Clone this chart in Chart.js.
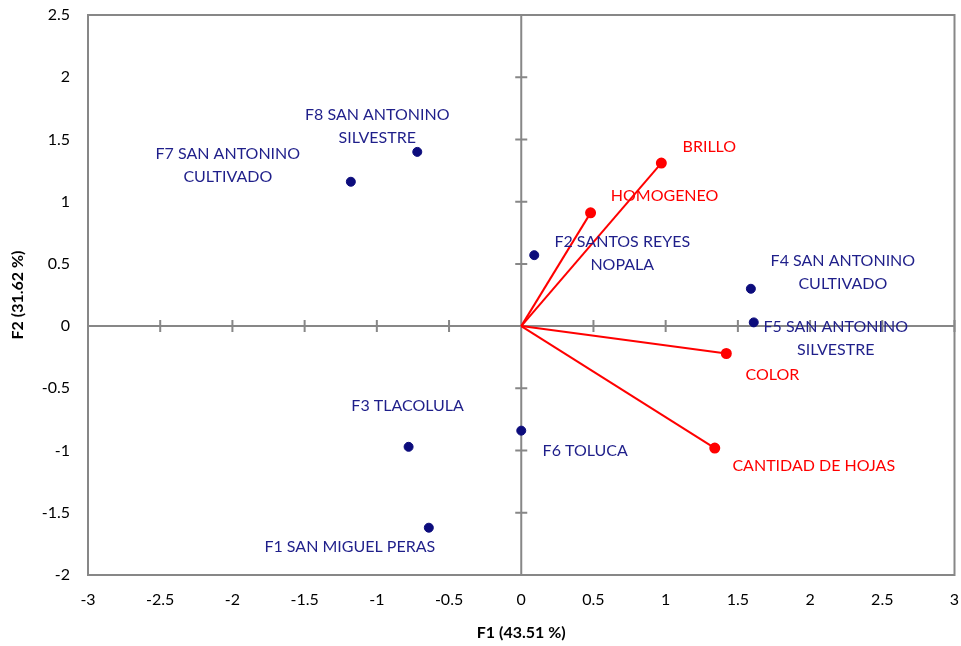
<!DOCTYPE html>
<html>
<head>
<meta charset="utf-8">
<script src="https://cdn.jsdelivr.net/npm/chart.js@4"></script>
<style>
  body { margin: 0; background: #fff; }
  #wrap { width: 961px; height: 646px; }
</style>
</head>
<body>
<div id="wrap"><canvas id="biplot"></canvas></div>
<script>
// observations (F1..F8)
const obsNames = [
  ['F1 SAN MIGUEL PERAS'],
  ['F2 SANTOS REYES', 'NOPALA'],
  ['F3 TLACOLULA'],
  ['F4 SAN ANTONINO', 'CULTIVADO'],
  ['F5 SAN ANTONINO', 'SILVESTRE'],
  ['F6 TOLUCA'],
  ['F7 SAN ANTONINO', 'CULTIVADO'],
  ['F8 SAN ANTONINO', 'SILVESTRE']
];
const obsX = [-0.64, 0.09, -0.78, 1.59, 1.61, 0.00, -1.18, -0.72];
const obsY = [-1.62, 0.57, -0.97, 0.30, 0.03, -0.84, 1.16, 1.40];

// variables (vectors from origin)
const varNames = ['BRILLO', 'HOMOGENEO', 'COLOR', 'CANTIDAD DE HOJAS'];
const varX = [0.97, 0.48, 1.42, 1.34];
const varY = [1.31, 0.91, -0.22, -0.98];

const xTicks = [-3, -2.5, -2, -1.5, -1, -0.5, 0, 0.5, 1, 1.5, 2, 2.5, 3];
const yTicks = [-2, -1.5, -1, -0.5, 0, 0.5, 1, 1.5, 2, 2.5];

const xTitle = 'F1 (43.51 %)';
const yTitle = 'F2 (31.62 %)';

// label placement relative to each point, in pixels
const obsLabelOffsets = [[-79, 19], [88, -2], [-1, -41], [92, -16], [82, 16], [64, 20], [-123, -16], [-40, -26]];
const varLabelOffsets = [[48, -16], [74, -17], [46, 21], [99, 18]];

const NAVY = '#0c0c7c';
const TEXT_NAVY = '#1f1f8a';
const RED = '#ff0000';
const GREY = '#878787';
const FONT = 'Lato, "Open Sans", sans-serif';

const datasets = [];
datasets.push({
  label: 'obs',
  data: obsX.map((x, i) => ({ x: x, y: obsY[i] })),
  pointRadius: 4.5,
  pointBackgroundColor: NAVY,
  pointBorderColor: NAVY,
  showLine: false
});
varNames.forEach((name, i) => {
  datasets.push({
    label: name,
    data: [{ x: 0, y: 0 }, { x: varX[i], y: varY[i] }],
    showLine: true,
    borderColor: RED,
    borderWidth: 2,
    pointRadius: [0, 4.5],
    pointBackgroundColor: RED,
    pointBorderColor: RED
  });
});

const biplotDecor = {
  id: 'biplotDecor',
  beforeDatasetsDraw(chart) {
    const ctx = chart.ctx;
    const area = chart.chartArea;
    const xs = chart.scales.x, ys = chart.scales.y;
    const x0 = xs.getPixelForValue(0), y0 = ys.getPixelForValue(0);
    ctx.save();
    ctx.strokeStyle = GREY;
    ctx.lineWidth = 2;
    ctx.strokeRect(area.left, area.top, area.right - area.left, area.bottom - area.top);
    ctx.beginPath();
    ctx.moveTo(area.left, y0); ctx.lineTo(area.right, y0);
    ctx.moveTo(x0, area.top); ctx.lineTo(x0, area.bottom);
    xTicks.forEach(v => {
      const p = xs.getPixelForValue(v);
      ctx.moveTo(p, y0 - 6); ctx.lineTo(p, y0 + 6);
    });
    yTicks.forEach(v => {
      const p = ys.getPixelForValue(v);
      ctx.moveTo(x0 - 6, p); ctx.lineTo(x0 + 6, p);
    });
    ctx.stroke();
    ctx.restore();
  },
  afterDatasetsDraw(chart) {
    const ctx = chart.ctx;
    const xs = chart.scales.x, ys = chart.scales.y;
    const lh = 23;
    ctx.save();
    ctx.font = '16px ' + FONT;
    ctx.textAlign = 'center';
    ctx.textBaseline = 'middle';
    const put = (lines, px, py, off, color) => {
      ctx.fillStyle = color;
      const top = py + off[1] - (lines.length - 1) * lh / 2;
      lines.forEach((t, k) => ctx.fillText(t, px + off[0], top + k * lh));
    };
    obsNames.forEach((lines, i) => {
      put(lines, xs.getPixelForValue(obsX[i]), ys.getPixelForValue(obsY[i]), obsLabelOffsets[i], TEXT_NAVY);
    });
    varNames.forEach((name, i) => {
      put([name], xs.getPixelForValue(varX[i]), ys.getPixelForValue(varY[i]), varLabelOffsets[i], RED);
    });
    ctx.restore();
  }
};

new Chart(document.getElementById('biplot').getContext('2d'), {
  type: 'scatter',
  data: { datasets: datasets },
  plugins: [biplotDecor],
  options: {
    responsive: true,
    maintainAspectRatio: false,
    animation: false,
    layout: { padding: { left: 0, top: 15, right: 6, bottom: 0 } },
    plugins: { legend: { display: false }, tooltip: { enabled: false } },
    scales: {
      x: {
        type: 'linear',
        min: -3, max: 3,
        afterBuildTicks: s => { s.ticks = xTicks.map(v => ({ value: v })); },
        afterFit: s => { s.height = 71; s.paddingLeft = 0; s.paddingRight = 0; },
        grid: { display: false, drawTicks: false },
        border: { display: false },
        ticks: { color: '#000', padding: 15, font: { family: FONT, size: 16 }, callback: v => String(v) },
        title: { display: true, text: xTitle, color: '#000', font: { family: FONT, size: 16, weight: 'bold' }, padding: { top: 4, bottom: 4 } }
      },
      y: {
        type: 'linear',
        min: -2, max: 2.5,
        afterBuildTicks: s => { s.ticks = yTicks.map(v => ({ value: v })); },
        afterFit: s => { s.width = 88; s.paddingTop = 0; s.paddingBottom = 0; },
        grid: { display: false, drawTicks: false },
        border: { display: false },
        ticks: { color: '#000', padding: 18, font: { family: FONT, size: 16 }, callback: v => String(v) },
        title: { display: true, text: yTitle, color: '#000', font: { family: FONT, size: 16, weight: 'bold' }, padding: { top: 8, bottom: 4 } }
      }
    }
  }
});
</script>
</body>
</html>
